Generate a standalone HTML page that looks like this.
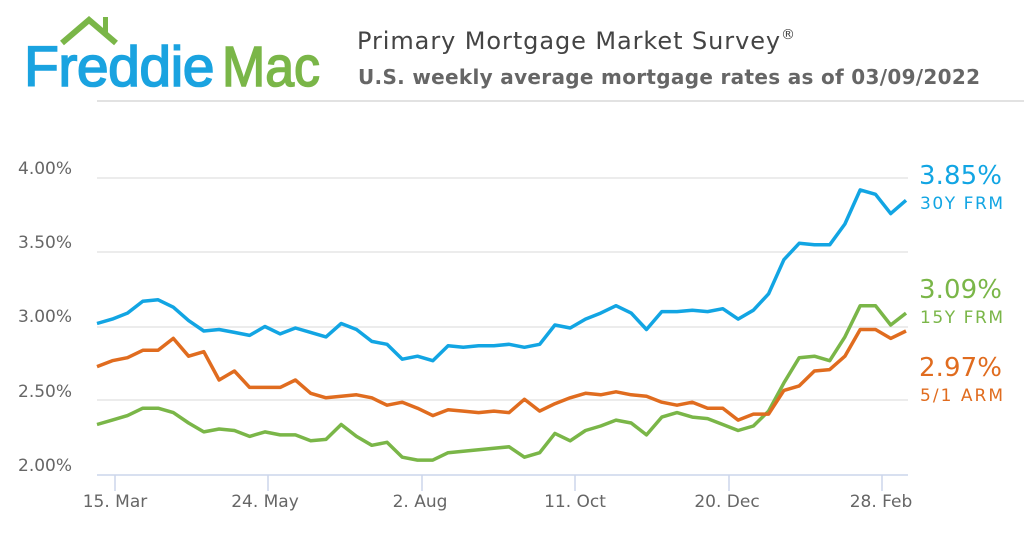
<!DOCTYPE html>
<html><head><style>
body{margin:0;background:#fff;width:1024px;height:538px;overflow:hidden;font-family:"DejaVu Sans","Liberation Sans",sans-serif}
</style></head><body>
<svg width="1024" height="538" xmlns="http://www.w3.org/2000/svg">
<polyline points="62,43 89,20 116,43" fill="none" stroke="#7ab648" stroke-width="6"/>
<rect x="103" y="17" width="5" height="16" fill="#7ab648"/>
<text x="24" y="86" font-family="Liberation Sans,sans-serif" font-size="57" fill="#1aa3e0" stroke="#1aa3e0" stroke-width="1.6" letter-spacing="-0.5" textLength="190" lengthAdjust="spacingAndGlyphs">Freddie</text>
<text x="222" y="86" font-family="Liberation Sans,sans-serif" font-size="57" fill="#7ab648" stroke="#7ab648" stroke-width="1.6" textLength="98" lengthAdjust="spacingAndGlyphs">Mac</text>
<line x1="97" y1="101" x2="1024" y2="101" stroke="#e2e2e2" stroke-width="2"/>
<text x="357" y="49" font-size="24" fill="#444" textLength="438">Primary Mortgage Market Survey<tspan font-size="14" dy="-10">®</tspan></text>
<text x="358" y="84" font-size="20" font-weight="bold" fill="#666" textLength="622">U.S. weekly average mortgage rates as of 03/09/2022</text>
<g stroke="#e6e6e6" stroke-width="1.5">
<line x1="97" y1="178" x2="908" y2="178"/><line x1="97" y1="252" x2="908" y2="252"/><line x1="97" y1="327" x2="908" y2="327"/><line x1="97" y1="400" x2="908" y2="400"/>
</g>
<line x1="97" y1="475" x2="908" y2="475" stroke="#ccd6eb" stroke-width="1.5"/>
<g font-size="17" fill="#666">
<text x="18" y="174">4.00%</text><text x="18" y="248">3.50%</text><text x="18" y="322">3.00%</text><text x="18" y="397">2.50%</text><text x="18" y="471">2.00%</text>
</g>
<g stroke="#ccd6eb" stroke-width="1.5">
<line x1="115" y1="475" x2="115" y2="491"/><line x1="268" y1="475" x2="268" y2="491"/><line x1="422" y1="475" x2="422" y2="491"/><line x1="575" y1="475" x2="575" y2="491"/><line x1="729" y1="475" x2="729" y2="491"/><line x1="882" y1="475" x2="882" y2="491"/>
</g>
<g font-size="17" fill="#666" text-anchor="middle">
<text x="115" y="507">15. Mar</text><text x="265" y="507">24. May</text><text x="420" y="507">2. Aug</text><text x="575" y="507">11. Oct</text><text x="727" y="507">20. Dec</text><text x="881" y="507">28. Feb</text>
</g>
<polyline id="g" fill="none" stroke="#7ab648" stroke-width="3.5" stroke-linejoin="round"/>
<polyline id="o" fill="none" stroke="#e06c1f" stroke-width="3.5" stroke-linejoin="round"/>
<polyline id="b" fill="none" stroke="#12a5e3" stroke-width="3.5" stroke-linejoin="round"/>
<g font-weight="500">
<text x="919" y="184" font-size="26" fill="#12a5e3" textLength="83">3.85%</text>
<text x="920" y="209" font-size="17" fill="#12a5e3" textLength="83">30Y FRM</text>
<text x="919" y="298" font-size="26" fill="#7ab648" textLength="83">3.09%</text>
<text x="920" y="323" font-size="17" fill="#7ab648" textLength="83">15Y FRM</text>
<text x="919" y="376" font-size="26" fill="#e06c1f" textLength="83">2.97%</text>
<text x="920" y="401" font-size="17" fill="#e06c1f" textLength="83">5/1 ARM</text>
</g>
</svg>
<script>
var d={b:[3.02,3.05,3.09,3.17,3.18,3.13,3.04,2.97,2.98,2.96,2.94,3.00,2.95,2.99,2.96,2.93,3.02,2.98,2.90,2.88,2.78,2.80,2.77,2.87,2.86,2.87,2.87,2.88,2.86,2.88,3.01,2.99,3.05,3.09,3.14,3.09,2.98,3.10,3.10,3.11,3.10,3.12,3.05,3.11,3.22,3.45,3.56,3.55,3.55,3.69,3.92,3.89,3.76,3.85],
g:[2.34,2.37,2.40,2.45,2.45,2.42,2.35,2.29,2.31,2.30,2.26,2.29,2.27,2.27,2.23,2.24,2.34,2.26,2.20,2.22,2.12,2.10,2.10,2.15,2.16,2.17,2.18,2.19,2.12,2.15,2.28,2.23,2.30,2.33,2.37,2.35,2.27,2.39,2.42,2.39,2.38,2.34,2.30,2.33,2.43,2.62,2.79,2.80,2.77,2.93,3.14,3.14,3.01,3.09],
o:[2.73,2.77,2.79,2.84,2.84,2.92,2.80,2.83,2.64,2.70,2.59,2.59,2.59,2.64,2.55,2.52,2.53,2.54,2.52,2.47,2.49,2.45,2.40,2.44,2.43,2.42,2.43,2.42,2.51,2.43,2.48,2.52,2.55,2.54,2.56,2.54,2.53,2.49,2.47,2.49,2.45,2.45,2.37,2.41,2.41,2.57,2.60,2.70,2.71,2.80,2.98,2.98,2.92,2.97]};
for(var k in d){var a=d[k],n=a.length,p=[];for(var i=0;i<n;i++){p.push((97+i*(906-97)/(n-1)).toFixed(1)+","+(475-(a[i]-2)*148.5).toFixed(1));}document.getElementById(k).setAttribute("points",p.join(" "));}
</script>
</body></html>
